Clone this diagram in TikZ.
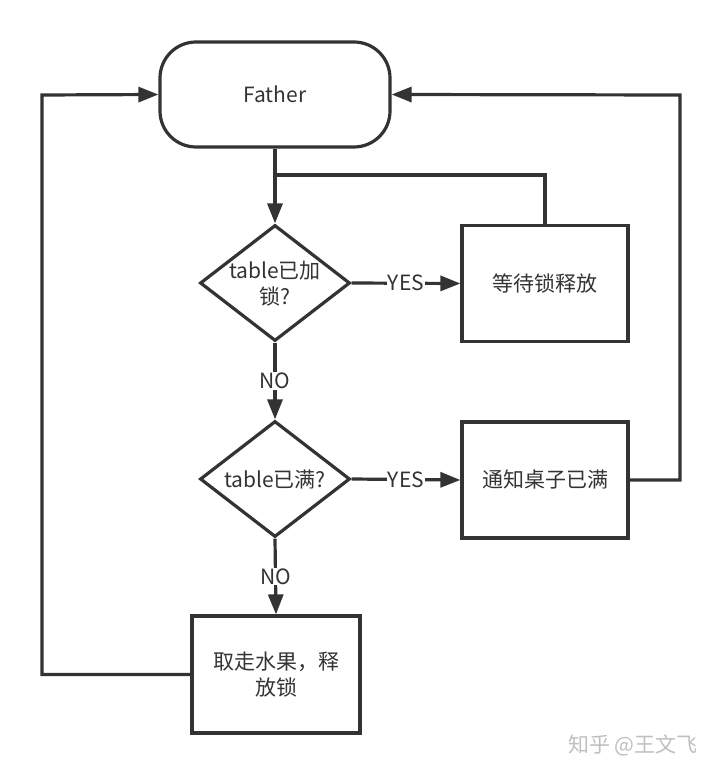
\documentclass[tikz,border=0pt]{standalone}
\usepackage{fontspec}
\setmainfont{Noto Sans CJK SC}
\usetikzlibrary{arrows.meta,shapes.geometric}
\definecolor{ink}{HTML}{333333}
\begin{document}
\begin{tikzpicture}[x=1pt,y=-1pt,
  every node/.style={text=ink, font=\fontsize{21}{26}\selectfont},
  conn/.style={draw=ink, line width=3.2pt},
  arr/.style={conn, -{Triangle[length=20pt,width=15pt]}},
  proc/.style={conn, rectangle, minimum width=166pt, minimum height=116pt, inner sep=0pt, align=center},
  dec/.style={conn, diamond, minimum width=150pt, minimum height=116pt, inner sep=0pt},
  term/.style={conn, rectangle, rounded corners=36pt, minimum width=230pt, minimum height=105pt},
  lbl/.style={fill=white, inner sep=1pt}]
\useasboundingbox (0,0) rectangle (720,775);
\node[term] (father) at (275,94.5) {Father};
\node[dec] (d1) at (275,283) {};
\node[align=center] (d1t) at (275,284) {table已加\\锁?};
\node[dec] (d2) at (275,479) {};
\node (d2t) at (275,479) {table已满?};
\node[proc] (b1) at (545,283.5) {等待锁释放};
\node[proc] (b2) at (545,480) {通知桌子已满};
\node[proc, minimum width=168pt, minimum height=117pt] (b3) at (276,674.5) {取走水果，释\\放锁};
\coordinate (j) at (275,175);
\coordinate (rc) at (680,95);
\coordinate (lc) at (42,95);
\draw[arr] (father.south) -- (d1.north);
\draw[conn] (b1.north) |- (j);
\draw[arr] (d1.east) -- node[lbl] (y1) {YES} (b1.west);
\draw[arr] (d1.south) -- node[lbl] (n1) {NO} (d2.north);
\draw[arr] (d2.east) -- node[lbl] (y2) {YES} (b2.west);
\draw[arr] (d2.south) -- node[lbl] (n2) {NO} (b3.north);
\draw[arr] (b2.east) -| (rc) -- (father.east);
\draw[arr] (b3.west) -| (lc) -- (father.west);
\node[text=black!25] (wm) at (633,745) {知乎 @王文飞};
\end{tikzpicture}
\end{document}
